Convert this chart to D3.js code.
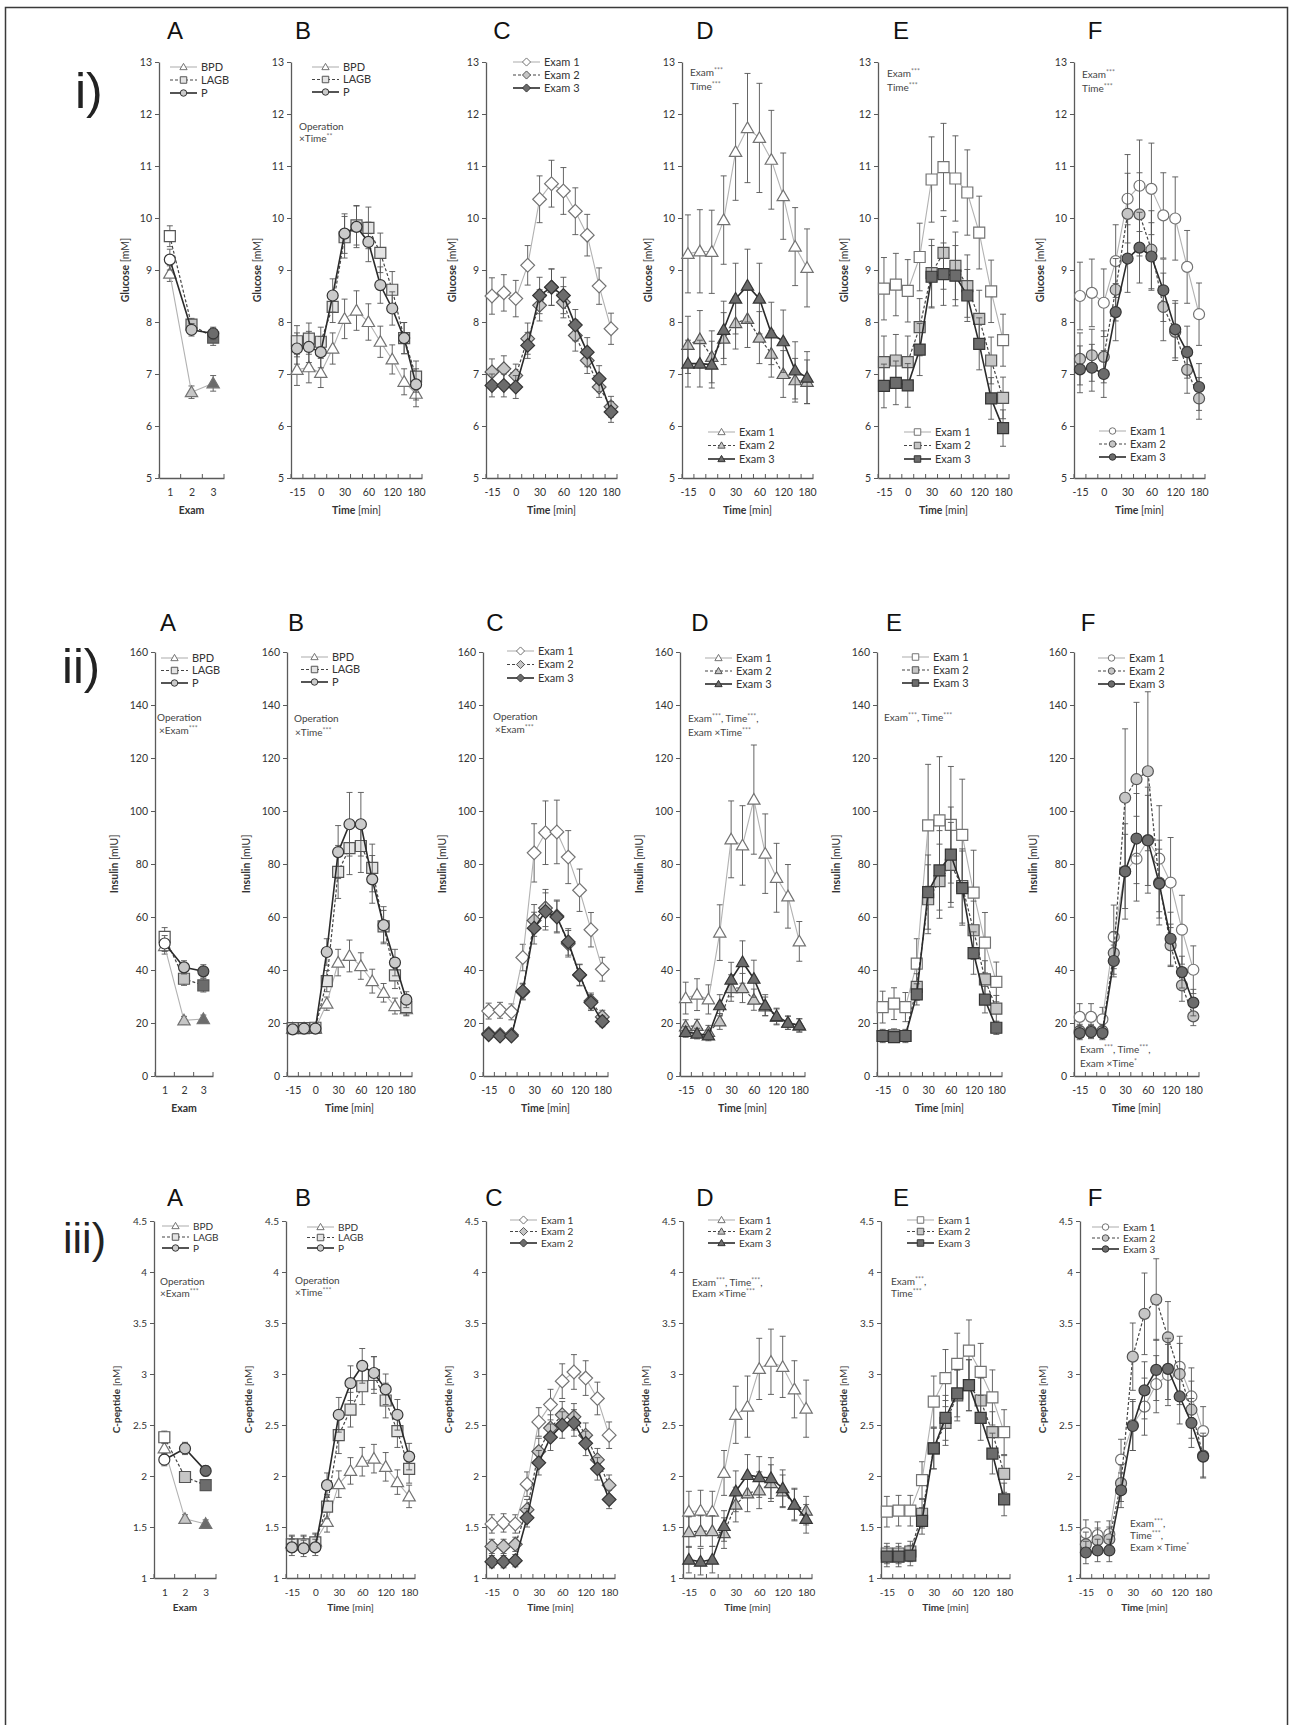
<!DOCTYPE html>
<html>
<head>
<meta charset="utf-8">
<script src="https://cdn.jsdelivr.net/npm/d3@7"></script>
<style>
  body { margin: 0; background: #fff; }
  svg { display: block; }
  text { font-family: Lato, "Liberation Sans", sans-serif; }
</style>
</head>
<body>
<div id="chart"></div>
<script>
// ---- categories ----
const timeLabels = ["-15", "-10", "0", "15", "30", "45", "60", "90", "120", "150", "180"];
const timeShown = ["-15", "0", "30", "60", "120", "180"];
const examLabels = ["1", "2", "3"];
const opNames = ["BPD", "LAGB", "P"];
const examNames = ["Exam 1", "Exam 2", "Exam 3"];

// ---- i) Glucose [mM] ----
const gluA_bpd = [8.93, 6.65, 6.82],  gluA_bpd_se = [0.15, 0.12, 0.15];
const gluA_lagb = [9.65, 7.95, 7.70], gluA_lagb_se = [0.2, 0.12, 0.15];
const gluA_p = [9.2, 7.85, 7.78],     gluA_p_se = [0.2, 0.12, 0.12];

const gluB_bpd = [7.08, 7.13, 7.02, 7.49, 8.06, 8.22, 8.0, 7.62, 7.28, 6.85, 6.62];
const gluB_bpd_se = [0.3, 0.3, 0.28, 0.3, 0.38, 0.38, 0.35, 0.3, 0.28, 0.25, 0.25];
const gluB_lagb = [7.63, 7.68, 7.62, 8.29, 9.63, 9.86, 9.81, 9.33, 8.62, 7.69, 6.95];
const gluB_lagb_se = [0.3, 0.3, 0.28, 0.3, 0.4, 0.38, 0.4, 0.38, 0.35, 0.3, 0.3];
const gluB_p = [7.49, 7.52, 7.42, 8.51, 9.7, 9.83, 9.54, 8.71, 8.26, 7.69, 6.8];
const gluB_p_se = [0.3, 0.3, 0.3, 0.32, 0.38, 0.4, 0.38, 0.35, 0.32, 0.3, 0.3];

const gluC_e1 = [8.5, 8.56, 8.45, 9.09, 10.36, 10.66, 10.52, 10.13, 9.67, 8.69, 7.87];
const gluC_e1_se = [0.35, 0.35, 0.35, 0.38, 0.45, 0.45, 0.45, 0.45, 0.4, 0.35, 0.3];
const gluC_e2 = [7.04, 7.1, 6.97, 7.68, 8.32, 8.67, 8.38, 7.74, 7.26, 6.75, 6.37];
const gluC_e2_se = [0.25, 0.25, 0.22, 0.3, 0.3, 0.35, 0.3, 0.3, 0.25, 0.2, 0.2];
const gluC_e3 = [6.78, 6.78, 6.75, 7.55, 8.51, 8.67, 8.51, 7.94, 7.42, 6.91, 6.27];
const gluC_e3_se = [0.22, 0.22, 0.22, 0.25, 0.35, 0.35, 0.35, 0.3, 0.28, 0.25, 0.2];

const gluD_e1 = [9.31, 9.36, 9.35, 9.96, 11.27, 11.73, 11.54, 11.12, 10.42, 9.45, 9.04];
const gluD_e1_se = [0.75, 0.8, 0.8, 0.85, 0.93, 1.05, 1.05, 0.95, 0.83, 0.75, 0.75];
const gluD_e2 = [7.56, 7.67, 7.33, 7.68, 7.98, 8.06, 7.7, 7.39, 7.0, 6.88, 6.85];
const gluD_e2_se = [0.55, 0.55, 0.5, 0.5, 0.5, 0.55, 0.5, 0.45, 0.45, 0.42, 0.42];
const gluD_e3 = [7.2, 7.2, 7.18, 7.85, 8.45, 8.7, 8.45, 7.78, 7.63, 7.07, 6.93];
const gluD_e3_se = [0.45, 0.45, 0.45, 0.55, 0.68, 0.7, 0.68, 0.6, 0.6, 0.55, 0.5];

const gluE_e1 = [8.64, 8.72, 8.6, 9.25, 10.74, 10.98, 10.76, 10.49, 9.72, 8.59, 7.65];
const gluE_e1_se = [0.6, 0.6, 0.6, 0.65, 0.82, 0.84, 0.82, 0.82, 0.7, 0.6, 0.5];
const gluE_e2 = [7.23, 7.26, 7.23, 7.9, 8.94, 9.33, 9.08, 8.69, 8.06, 7.26, 6.54];
const gluE_e2_se = [0.5, 0.5, 0.5, 0.55, 0.65, 0.7, 0.65, 0.6, 0.55, 0.45, 0.4];
const gluE_e3 = [6.77, 6.83, 6.78, 7.47, 8.87, 8.92, 8.89, 8.51, 7.58, 6.53, 5.96];
const gluE_e3_se = [0.42, 0.42, 0.42, 0.5, 0.6, 0.6, 0.58, 0.5, 0.5, 0.4, 0.35];

const gluF_e1 = [8.5, 8.56, 8.37, 9.17, 10.37, 10.62, 10.56, 10.05, 9.99, 9.06, 8.15];
const gluF_e1_se = [0.65, 0.65, 0.65, 0.7, 0.85, 0.88, 0.88, 0.82, 0.8, 0.7, 0.6];
const gluF_e2 = [7.29, 7.36, 7.33, 8.62, 10.08, 10.07, 9.39, 8.29, 7.81, 7.08, 6.53];
const gluF_e2_se = [0.5, 0.5, 0.5, 0.6, 0.78, 0.8, 0.75, 0.65, 0.55, 0.45, 0.4];
const gluF_e3 = [7.09, 7.12, 7.0, 8.19, 9.22, 9.43, 9.26, 8.61, 7.86, 7.42, 6.75];
const gluF_e3_se = [0.45, 0.45, 0.45, 0.55, 0.65, 0.68, 0.65, 0.6, 0.55, 0.5, 0.45];

// ---- ii) Insulin [mIU] ----
const insA_bpd = [49, 21, 21.5],     insA_bpd_se = [3, 1.5, 1.5];
const insA_lagb = [52.5, 36.7, 34.2], insA_lagb_se = [3.5, 2.5, 2.5];
const insA_p = [50, 41, 39.5],       insA_p_se = [3, 2.5, 2.5];

const insB_bpd = [17.9, 17.9, 17.9, 27.3, 42.8, 45.3, 41.5, 35.8, 31.4, 26.4, 25.2];
const insB_bpd_se = [1.5, 1.5, 1.5, 2.5, 5, 6, 5, 4.5, 3.5, 3, 2.5];
const insB_lagb = [18.1, 18.1, 18.2, 35.8, 77, 86, 86.8, 78.5, 56.5, 38, 26];
const insB_lagb_se = [1.5, 1.5, 1.5, 4, 10, 10, 10, 9, 6, 5, 3];
const insB_p = [17.6, 17.9, 17.9, 46.8, 84.5, 95, 95, 74.2, 56.9, 42.8, 28.8];
const insB_p_se = [1.5, 1.5, 1.5, 5, 10, 12, 12, 9, 7, 5, 3];

const insC_e1 = [24.5, 24.8, 24.2, 44.7, 84.2, 91.8, 92.1, 82.6, 70.1, 55.2, 40.3];
const insC_e1_se = [3, 3, 3, 5, 11, 12, 12, 10, 8, 6.5, 4.5];
const insC_e2 = [16, 15.6, 15.6, 31.7, 58.7, 63.4, 60.4, 49.9, 38, 28.3, 22.3];
const insC_e2_se = [1.5, 1.5, 1.5, 3, 6, 7, 6, 5, 4, 3, 2.5];
const insC_e3 = [15.6, 15.1, 15.1, 32, 55.8, 62.1, 60, 50.6, 38.2, 27.7, 20.6];
const insC_e3_se = [1.5, 1.5, 1.5, 3, 6, 7, 6, 5, 4, 3, 2];

const insD_e1 = [29.4, 30.7, 28.9, 54.1, 89.3, 87, 104.3, 83.9, 74.8, 67.8, 50.8];
const insD_e1_se = [6, 6, 5.5, 10.5, 14.5, 15, 20.6, 15, 13, 12, 7.5];
const insD_e2 = [18.7, 18.9, 16.6, 20.6, 33.2, 33.2, 28.8, 26.3, 22.3, 20.1, 19.1];
const insD_e2_se = [2.5, 2.5, 2.5, 3, 5, 5.5, 4, 3.5, 3, 2.5, 2.5];
const insD_e3 = [16.6, 16, 15.3, 26.7, 36.4, 43, 36.7, 26.7, 22.6, 20.1, 19.1];
const insD_e3_se = [2, 2, 2, 4, 6.5, 8, 7, 4, 3, 2.5, 2.5];

const insE_e1 = [26, 27.3, 26, 42.4, 94.6, 96.5, 94.8, 91, 69.2, 50.3, 35.5];
const insE_e1_se = [6, 6, 5.5, 9.4, 23, 24, 22, 21, 16, 11.4, 7.5];
const insE_e2 = [15.1, 15.3, 15.1, 33.6, 66.7, 73.5, 79.7, 71.7, 55, 36.5, 25.4];
const insE_e2_se = [2.5, 2.5, 2.5, 5, 13, 14, 16, 14, 11, 7, 5];
const insE_e3 = [15.1, 14.7, 15.1, 30.8, 69.4, 77.6, 83.5, 70.9, 46.4, 28.8, 18.2];
const insE_e3_se = [2, 2, 2, 4, 14, 15, 18, 14, 8, 5, 2.5];

const insF_e1 = [22.3, 22.3, 21.4, 52.5, 77.2, 82, 89, 82, 73, 55.2, 40.1];
const insF_e1_se = [5, 5, 4.5, 12, 18, 16, 20, 20, 17, 13, 9];
const insF_e2 = [17, 17, 17, 46.4, 105, 112, 115, 73, 49.3, 34.2, 22.5];
const insF_e2_se = [2.5, 2.5, 2.5, 8, 26, 29, 30, 16, 8, 6, 3.5];
const insF_e3 = [16.2, 16.6, 16.2, 43.4, 77.2, 89.6, 88.9, 72.6, 51.8, 39.2, 27.7];
const insF_e3_se = [2.5, 2.5, 2.5, 6, 14, 17, 17, 13, 10, 6, 5];

// ---- iii) C-peptide [nM] ----
const cpA_bpd = [2.27, 1.58, 1.53],  cpA_bpd_se = [0.06, 0.04, 0.04];
const cpA_lagb = [2.38, 1.99, 1.91], cpA_lagb_se = [0.06, 0.05, 0.05];
const cpA_p = [2.16, 2.27, 2.05],    cpA_p_se = [0.06, 0.06, 0.05];

const cpB_bpd = [1.34, 1.34, 1.36, 1.55, 1.92, 2.05, 2.14, 2.17, 2.09, 1.94, 1.8];
const cpB_bpd_se = [0.08, 0.08, 0.08, 0.1, 0.13, 0.13, 0.14, 0.14, 0.14, 0.12, 0.11];
const cpB_lagb = [1.33, 1.33, 1.35, 1.7, 2.4, 2.65, 2.88, 2.99, 2.74, 2.44, 2.07];
const cpB_lagb_se = [0.08, 0.08, 0.08, 0.12, 0.18, 0.17, 0.18, 0.18, 0.17, 0.16, 0.14];
const cpB_p = [1.3, 1.29, 1.3, 1.91, 2.6, 2.91, 3.08, 3.01, 2.85, 2.6, 2.19];
const cpB_p_se = [0.08, 0.08, 0.08, 0.12, 0.17, 0.17, 0.17, 0.16, 0.15, 0.15, 0.13];

const cpC_e1 = [1.53, 1.54, 1.53, 1.92, 2.53, 2.7, 2.93, 3.02, 2.96, 2.76, 2.4];
const cpC_e1_se = [0.09, 0.09, 0.09, 0.12, 0.14, 0.15, 0.17, 0.17, 0.17, 0.16, 0.13];
const cpC_e2 = [1.31, 1.31, 1.33, 1.67, 2.24, 2.47, 2.6, 2.58, 2.4, 2.16, 1.91];
const cpC_e2_se = [0.07, 0.07, 0.07, 0.1, 0.13, 0.13, 0.13, 0.13, 0.12, 0.11, 0.1];
const cpC_e3 = [1.16, 1.16, 1.17, 1.59, 2.13, 2.38, 2.5, 2.52, 2.32, 2.07, 1.77];
const cpC_e3_se = [0.06, 0.06, 0.06, 0.09, 0.12, 0.13, 0.13, 0.13, 0.12, 0.11, 0.09];

const cpD_e1 = [1.65, 1.66, 1.65, 2.03, 2.6, 2.68, 3.05, 3.12, 3.07, 2.85, 2.66];
const cpD_e1_se = [0.2, 0.2, 0.2, 0.22, 0.28, 0.3, 0.3, 0.32, 0.3, 0.28, 0.28];
const cpD_e2 = [1.45, 1.46, 1.46, 1.44, 1.72, 1.83, 1.86, 1.93, 1.85, 1.72, 1.66];
const cpD_e2_se = [0.15, 0.15, 0.15, 0.15, 0.17, 0.18, 0.18, 0.18, 0.16, 0.15, 0.14];
const cpD_e3 = [1.18, 1.16, 1.18, 1.51, 1.85, 2.01, 1.99, 1.98, 1.88, 1.72, 1.58];
const cpD_e3_se = [0.13, 0.13, 0.13, 0.15, 0.2, 0.2, 0.2, 0.2, 0.18, 0.16, 0.14];

const cpE_e1 = [1.65, 1.66, 1.66, 1.96, 2.73, 2.96, 3.1, 3.23, 3.02, 2.77, 2.43];
const cpE_e1_se = [0.15, 0.15, 0.15, 0.18, 0.25, 0.28, 0.3, 0.3, 0.28, 0.27, 0.22];
const cpE_e2 = [1.24, 1.24, 1.26, 1.63, 2.27, 2.52, 2.79, 2.89, 2.74, 2.43, 2.02];
const cpE_e2_se = [0.1, 0.1, 0.1, 0.14, 0.2, 0.22, 0.25, 0.25, 0.22, 0.2, 0.18];
const cpE_e3 = [1.21, 1.21, 1.22, 1.56, 2.27, 2.57, 2.81, 2.89, 2.57, 2.22, 1.77];
const cpE_e3_se = [0.1, 0.1, 0.1, 0.13, 0.2, 0.22, 0.23, 0.25, 0.22, 0.2, 0.16];

const cpF_e1 = [1.44, 1.42, 1.43, 2.16, 2.5, 2.68, 2.9, 2.99, 3.07, 2.78, 2.44];
const cpF_e1_se = [0.13, 0.13, 0.13, 0.2, 0.25, 0.28, 0.28, 0.3, 0.3, 0.28, 0.24];
const cpF_e2 = [1.33, 1.37, 1.38, 1.93, 3.17, 3.59, 3.73, 3.36, 3.0, 2.65, 2.2];
const cpF_e2_se = [0.12, 0.12, 0.12, 0.18, 0.33, 0.4, 0.4, 0.35, 0.3, 0.28, 0.22];
const cpF_e3 = [1.25, 1.27, 1.27, 1.86, 2.49, 2.84, 3.04, 3.05, 2.78, 2.52, 2.19];
const cpF_e3_se = [0.11, 0.11, 0.11, 0.17, 0.24, 0.28, 0.3, 0.3, 0.27, 0.24, 0.2];

// ---- layout ----
const W = 1291, H = 1725;
const AXIS = "#5a5a5a";
const MK = 11; // marker size in the plots

const ROWS = [
  { top: 62, bottom: 478, lefts: [159, 291, 486, 682, 878, 1074], wA: 65, w: 131,
    yDomain: [5, 13], yTicks: d3.range(5, 13.01, 1), title: ["Glucose", " [mM]"], tOff: 33, xTitleDy: 36,
    letterY: 39, letterX: [175, 303, 502, 705, 901, 1095], fs: 10.5, legFs: 11 },
  { top: 652, bottom: 1076, lefts: [155, 287, 483, 680, 877, 1074], wA: 58, w: 125,
    yDomain: [0, 160], yTicks: d3.range(0, 161, 20), title: ["Insulin", " [mIU]"], tOff: 40, xTitleDy: 36,
    letterY: 631, letterX: [168, 296, 495, 700, 894, 1088], fs: 10.5, legFs: 11 },
  { top: 1221, bottom: 1578, lefts: [154, 286, 486, 683, 881, 1080], wA: 62, w: 129,
    yDomain: [1, 4.5], yTicks: d3.range(1, 4.51, 0.5), title: ["C-peptide", " [nM]"], tOff: 37, xTitleDy: 33,
    letterY: 1206, letterX: [175, 303, 494, 705, 901, 1095], fs: 10, legFs: 10 }
];

// series styles: Exam1/BPD light, Exam2/LAGB dashed, Exam3/P solid dark
const STYLE = [
  { line: "#b2b2b2", lw: 1.1, dash: null, fill: "#ffffff", stroke: "#737373" },
  { line: "#454545", lw: 1.2, dash: "3,2", fill: "#c6c6c6", stroke: "#555555" },
  { line: "#2b2b2b", lw: 1.6, dash: null, fill: "#6c6c6c", stroke: "#353535" }
];
const EXAM_FILL = ["#ffffff", "#c6c6c6", "#6c6c6c"];
const B_FILL = ["#ffffff", "#e4e4e4", "#cbcbcb"];

function markerPath(shape, s) {
  const h = s / 2;
  if (shape === "tri") return `M0,${-h * 1.12}L${h * 1.12},${h * 0.82}L${-h * 1.12},${h * 0.82}Z`;
  if (shape === "sq") return `M${-h},${-h}H${h}V${h}H${-h}Z`;
  if (shape === "dia") return `M0,${-h * 1.25}L${h * 1.25},0L0,${h * 1.25}L${-h * 1.25},0Z`;
  return `M${h},0A${h},${h} 0 1,1 ${-h},0A${h},${h} 0 1,1 ${h},0Z`;
}

const svg = d3.select("#chart").append("svg").attr("width", W).attr("height", H);
svg.append("rect").attr("width", W).attr("height", H).attr("fill", "#fff");
svg.append("rect").attr("x", 5.5).attr("y", 7.5).attr("width", 1282).attr("height", 1740)
  .attr("fill", "none").attr("stroke", "#3a3a3a").attr("stroke-width", 1.5);

// roman numerals
[["i)", 75, 108, 50], ["ii)", 62, 683, 49], ["iii)", 63, 1253, 43]].forEach(([t, x, y, fs]) => {
  svg.append("text").attr("x", x).attr("y", y).attr("font-size", fs)
    .style("font-family", "'Liberation Sans', Arial, sans-serif").attr("fill", "#222").text(t);
});

// text with raised asterisks
function richText(sel, str, fs) {
  str.split(/(\*+)/).filter(s => s.length).forEach((part, i, arr) => {
    const isStar = /^\*+$/.test(part);
    const prevStar = i > 0 && /^\*+$/.test(arr[i - 1]);
    const t = sel.append("tspan").text(part);
    if (isStar) t.attr("font-size", fs * 0.7).attr("dy", -3).attr("fill", "#777");
    else if (prevStar) t.attr("dy", 3);
  });
}

function drawPanel(p) {
  const row = ROWS[p.row];
  const isA = p.col === 0;
  const left = row.lefts[p.col], w = isA ? row.wA : row.w;
  const h = row.bottom - row.top;
  const cats = isA ? examLabels : timeLabels;
  const g = svg.append("g").attr("transform", `translate(${left},${row.top})`);

  const x = d3.scalePoint().domain(cats).range([0, w]).padding(0.5);
  const y = d3.scaleLinear().domain(row.yDomain).range([h, 0]);

  // y axis
  g.append("g")
    .call(d3.axisLeft(y).tickValues(row.yTicks).tickSize(4).tickSizeOuter(0).tickPadding(3)
      .tickFormat(d3.format("~g")))
    .call(s => {
      s.select(".domain").attr("stroke", AXIS).attr("stroke-width", 1.3);
      s.selectAll(".tick line").attr("stroke", AXIS);
      s.selectAll(".tick text").attr("font-size", row.fs).attr("fill", "#333")
        .style("font-family", "Lato, 'Liberation Sans', sans-serif");
    });

  // x axis (category axis, ticks between categories)
  g.append("g").attr("transform", `translate(0,${h})`)
    .call(d3.axisBottom(x).tickValues(isA ? examLabels : timeShown).tickSize(0).tickSizeOuter(0).tickPadding(11))
    .call(s => {
      s.select(".domain").attr("stroke", AXIS).attr("stroke-width", 1.3);
      s.selectAll(".tick text").attr("font-size", row.fs).attr("fill", "#333")
        .style("font-family", "Lato, 'Liberation Sans', sans-serif");
    });
  g.append("g").selectAll("line").data(d3.range(cats.length + 1)).join("line")
    .attr("x1", i => i * x.step()).attr("x2", i => i * x.step())
    .attr("y1", h).attr("y2", h - 4).attr("stroke", AXIS).attr("stroke-width", 1);

  // axis titles
  const yt = g.append("text").attr("transform", `translate(${-row.tOff},${h / 2}) rotate(-90)`)
    .attr("text-anchor", "middle").attr("dominant-baseline", "middle").attr("font-size", row.fs).attr("fill", "#333");
  yt.append("tspan").attr("font-weight", "bold").text(row.title[0]);
  yt.append("tspan").text(row.title[1]);
  const xt = g.append("text").attr("x", w / 2).attr("y", h + row.xTitleDy)
    .attr("text-anchor", "middle").attr("font-size", row.fs).attr("fill", "#333");
  xt.append("tspan").attr("font-weight", "bold").text(isA ? "Exam" : "Time");
  if (!isA) xt.append("tspan").text(" [min]");

  // series
  p.data.forEach((vals, si) => {
    const st = STYLE[si];
    const se = p.se[si];
    const shape = p.shapes[si];
    const sg = g.append("g");
    const pts = vals.map((v, j) => ({ v, e: se[j], c: cats[j], j }));

    const eb = sg.append("g").attr("stroke", "#555").attr("stroke-width", 0.9).attr("fill", "none");
    eb.selectAll("path").data(pts).join("path")
      .attr("d", d => {
        const cx = x(d.c), y1 = y(d.v - d.e), y2 = y(d.v + d.e);
        return `M${cx},${y1}V${y2}M${cx - 3},${y1}H${cx + 3}M${cx - 3},${y2}H${cx + 3}`;
      });

    sg.append("path").datum(pts)
      .attr("d", d3.line().x(d => x(d.c)).y(d => y(d.v)))
      .attr("fill", "none").attr("stroke", st.line).attr("stroke-width", st.lw)
      .attr("stroke-dasharray", st.dash);

    sg.selectAll("path.mk").data(pts).join("path").attr("class", "mk")
      .attr("transform", d => `translate(${x(d.c)},${y(d.v)})`)
      .attr("d", markerPath(shape, MK))
      .attr("fill", d => isA ? EXAM_FILL[d.j] : (p.col === 1 ? B_FILL[si] : st.fill))
      .attr("stroke", st.stroke).attr("stroke-width", 1.2);
  });

  // legend
  const lg = svg.append("g").attr("transform", `translate(${p.leg[0]},${p.leg[1]})`);
  p.names.forEach((name, si) => {
    const st = STYLE[si];
    const r = lg.append("g").attr("transform", `translate(0,${si * p.leg[2]})`);
    r.append("line").attr("x1", 0).attr("x2", 27).attr("stroke", st.line)
      .attr("stroke-width", st.lw).attr("stroke-dasharray", st.dash);
    r.append("path").attr("transform", "translate(13.5,0)").attr("d", markerPath(p.shapes[si], 6.5))
      .attr("fill", p.col <= 1 ? B_FILL[si] : st.fill).attr("stroke", st.stroke).attr("stroke-width", 1);
    r.append("text").attr("x", 31).attr("y", 0).attr("dy", "0.35em")
      .attr("font-size", row.legFs).attr("fill", "#333").text(name);
  });

  // annotations
  (p.notes || []).forEach(([str, ax, ay]) => {
    const t = svg.append("text").attr("x", ax).attr("y", ay + 3.5).attr("font-size", 10).attr("fill", "#444");
    richText(t, str, 10);
  });

  // panel letter
  svg.append("text").attr("x", row.letterX[p.col]).attr("y", row.letterY)
    .attr("text-anchor", "middle").attr("font-size", 24).attr("fill", "#111")
    .style("font-family", "'Liberation Sans', Arial, sans-serif")
    .text("ABCDEF"[p.col]);
}

const OP = ["tri", "sq", "circ"];
const panels = [
  // row i
  { row: 0, col: 0, shapes: OP, names: opNames, data: [gluA_bpd, gluA_lagb, gluA_p], se: [gluA_bpd_se, gluA_lagb_se, gluA_p_se], leg: [170, 67, 13] },
  { row: 0, col: 1, shapes: OP, names: opNames, data: [gluB_bpd, gluB_lagb, gluB_p], se: [gluB_bpd_se, gluB_lagb_se, gluB_p_se], leg: [312, 67, 12.5],
    notes: [["Operation", 299, 126], ["×Time**", 299, 138]] },
  { row: 0, col: 2, shapes: ["dia", "dia", "dia"], names: examNames, data: [gluC_e1, gluC_e2, gluC_e3], se: [gluC_e1_se, gluC_e2_se, gluC_e3_se], leg: [513, 62, 13] },
  { row: 0, col: 3, shapes: ["tri", "tri", "tri"], names: examNames, data: [gluD_e1, gluD_e2, gluD_e3], se: [gluD_e1_se, gluD_e2_se, gluD_e3_se], leg: [708, 432, 13.5],
    notes: [["Exam***", 690, 72], ["Time***", 690, 86]] },
  { row: 0, col: 4, shapes: ["sq", "sq", "sq"], names: examNames, data: [gluE_e1, gluE_e2, gluE_e3], se: [gluE_e1_se, gluE_e2_se, gluE_e3_se], leg: [904, 432, 13.5],
    notes: [["Exam***", 887, 73], ["Time***", 887, 87]] },
  { row: 0, col: 5, shapes: ["circ", "circ", "circ"], names: examNames, data: [gluF_e1, gluF_e2, gluF_e3], se: [gluF_e1_se, gluF_e2_se, gluF_e3_se], leg: [1099, 431, 13],
    notes: [["Exam***", 1082, 74], ["Time***", 1082, 88]] },
  // row ii
  { row: 1, col: 0, shapes: OP, names: opNames, data: [insA_bpd, insA_lagb, insA_p], se: [insA_bpd_se, insA_lagb_se, insA_p_se], leg: [161, 658, 12.5],
    notes: [["Operation", 157, 717], ["×Exam***", 159, 730]] },
  { row: 1, col: 1, shapes: OP, names: opNames, data: [insB_bpd, insB_lagb, insB_p], se: [insB_bpd_se, insB_lagb_se, insB_p_se], leg: [301, 657, 12.5],
    notes: [["Operation", 294, 718], ["×Time***", 295, 732]] },
  { row: 1, col: 2, shapes: ["dia", "dia", "dia"], names: examNames, data: [insC_e1, insC_e2, insC_e3], se: [insC_e1_se, insC_e2_se, insC_e3_se], leg: [507, 651, 13.5],
    notes: [["Operation", 493, 716], ["×Exam***", 495, 729]] },
  { row: 1, col: 3, shapes: ["tri", "tri", "tri"], names: examNames, data: [insD_e1, insD_e2, insD_e3], se: [insD_e1_se, insD_e2_se, insD_e3_se], leg: [705, 658, 13],
    notes: [["Exam***, Time***,", 688, 718], ["Exam ×Time***", 688, 732]] },
  { row: 1, col: 4, shapes: ["sq", "sq", "sq"], names: examNames, data: [insE_e1, insE_e2, insE_e3], se: [insE_e1_se, insE_e2_se, insE_e3_se], leg: [902, 657, 13],
    notes: [["Exam***, Time***", 884, 717]] },
  { row: 1, col: 5, shapes: ["circ", "circ", "circ"], names: examNames, data: [insF_e1, insF_e2, insF_e3], se: [insF_e1_se, insF_e2_se, insF_e3_se], leg: [1098, 658, 13],
    notes: [["Exam***, Time***,", 1080, 1049], ["Exam ×Time*", 1080, 1063]] },
  // row iii
  { row: 2, col: 0, shapes: OP, names: opNames, data: [cpA_bpd, cpA_lagb, cpA_p], se: [cpA_bpd_se, cpA_lagb_se, cpA_p_se], leg: [162, 1226, 11],
    notes: [["Operation", 160, 1281], ["×Exam***", 160, 1293]] },
  { row: 2, col: 1, shapes: OP, names: opNames, data: [cpB_bpd, cpB_lagb, cpB_p], se: [cpB_bpd_se, cpB_lagb_se, cpB_p_se], leg: [307, 1227, 10.5],
    notes: [["Operation", 295, 1280], ["×Time***", 295, 1292]] },
  { row: 2, col: 2, shapes: ["dia", "dia", "dia"], names: ["Exam 1", "Exam 2", "Exam 2"], data: [cpC_e1, cpC_e2, cpC_e3], se: [cpC_e1_se, cpC_e2_se, cpC_e3_se], leg: [510, 1220, 11.5] },
  { row: 2, col: 3, shapes: ["tri", "tri", "tri"], names: examNames, data: [cpD_e1, cpD_e2, cpD_e3], se: [cpD_e1_se, cpD_e2_se, cpD_e3_se], leg: [708, 1220, 11.5],
    notes: [["Exam***, Time***,", 692, 1282], ["Exam ×Time***", 692, 1293]] },
  { row: 2, col: 4, shapes: ["sq", "sq", "sq"], names: examNames, data: [cpE_e1, cpE_e2, cpE_e3], se: [cpE_e1_se, cpE_e2_se, cpE_e3_se], leg: [907, 1220, 11.5],
    notes: [["Exam***,", 891, 1281], ["Time***", 891, 1293]] },
  { row: 2, col: 5, shapes: ["circ", "circ", "circ"], names: examNames, data: [cpF_e1, cpF_e2, cpF_e3], se: [cpF_e1_se, cpF_e2_se, cpF_e3_se], leg: [1092, 1227, 11],
    notes: [["Exam***,", 1130, 1523], ["Time***,", 1130, 1535], ["Exam × Time*", 1130, 1547]] }
];

panels.forEach(drawPanel);
</script>
</body>
</html>
